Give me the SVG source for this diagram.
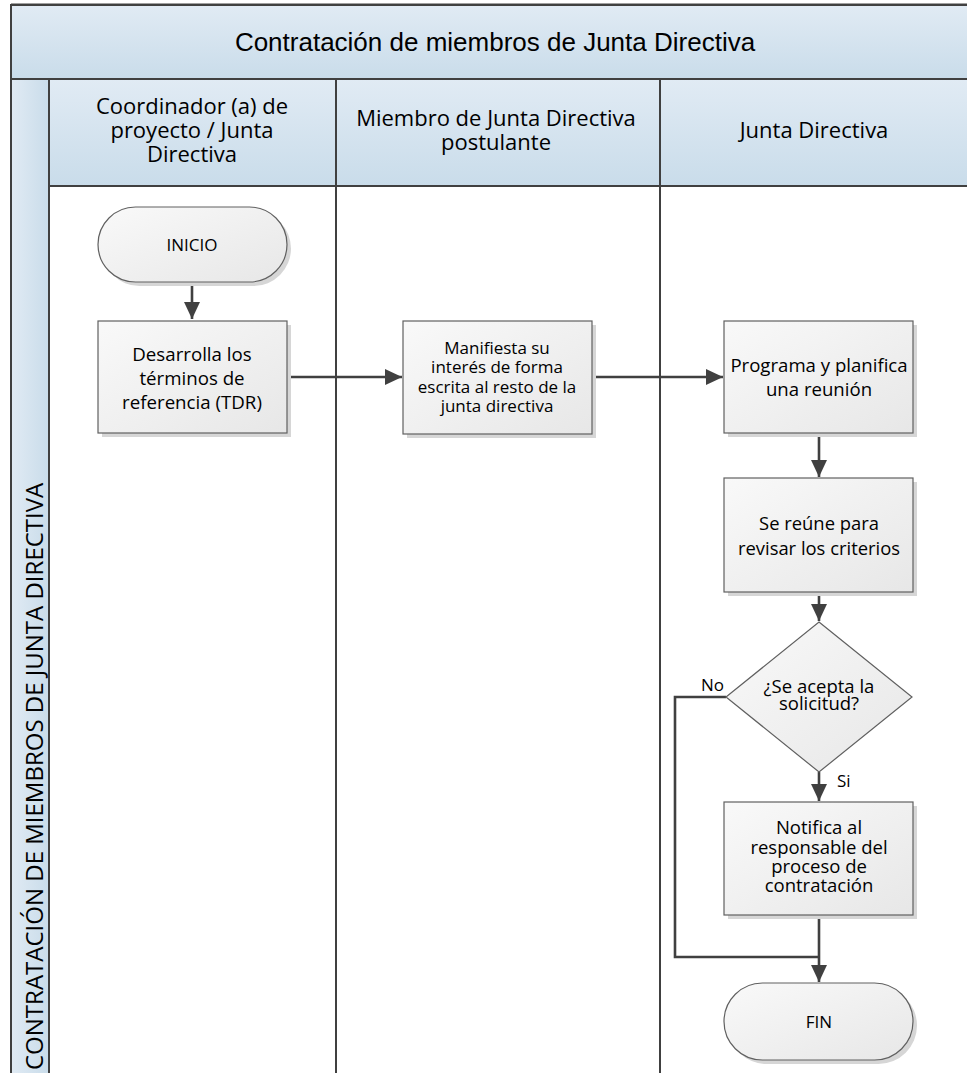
<svg xmlns="http://www.w3.org/2000/svg" width="967" height="1073" viewBox="0 0 967 1073">
<style>
.lane{stroke:#404040;stroke-width:2;fill:none}
.box{fill:url(#boxg);stroke:#606060;stroke-width:1.2}
.shadow{fill:#d6d6d6}
.conn{stroke:#404040;stroke-width:2.6;fill:none}
.t{font-family:"Open Sans",Lato,sans-serif;fill:#000;text-anchor:middle}
.h{font-family:"Open Sans",Lato,sans-serif;font-size:22px;fill:#000;text-anchor:middle}
.lbl{font-family:"Open Sans",Lato,sans-serif;font-size:17px;fill:#000}
</style>
<defs>
<linearGradient id="hdr" x1="0" y1="0" x2="0" y2="1"><stop offset="0" stop-color="#e1ebf4"/><stop offset="1" stop-color="#c9dcea"/></linearGradient>
<linearGradient id="band" x1="0" y1="0" x2="1" y2="0"><stop offset="0" stop-color="#e1ebf4"/><stop offset="1" stop-color="#c9dcea"/></linearGradient>
<linearGradient id="boxg" x1="0" y1="0" x2="1" y2="1"><stop offset="0" stop-color="#f9f9f9"/><stop offset="1" stop-color="#e7e7e7"/></linearGradient>
<marker id="arr" markerUnits="userSpaceOnUse" markerWidth="18" markerHeight="18" viewBox="0 0 18 18" refX="17" refY="9" orient="auto"><path d="M0,1 L17,9 L0,17 z" fill="#404040"/></marker>
</defs>
<rect width="967" height="1073" fill="#fff"/>
<g id="pool">
<rect x="11" y="4" width="970" height="75" fill="url(#hdr)"/>
<rect x="11" y="79" width="970" height="107" fill="url(#hdr)"/>
<rect x="11" y="79" width="38" height="1000" fill="url(#band)"/>
<line x1="11" y1="3.5" x2="967" y2="3.5" stroke="#a0a0a0" stroke-width="1"/>
<line x1="11" y1="5" x2="967" y2="5" class="lane"/>
<line x1="11" y1="4" x2="11" y2="1073" class="lane"/>
<line x1="11" y1="79" x2="967" y2="79" class="lane"/>
<line x1="49" y1="79" x2="49" y2="1073" class="lane"/>
<line x1="49" y1="186" x2="967" y2="186" class="lane"/>
<line x1="336" y1="79" x2="336" y2="1073" class="lane"/>
<line x1="660" y1="79" x2="660" y2="1073" class="lane"/>
<text x="495" y="51" font-family="Liberation Sans,Arial,sans-serif" font-size="26" text-anchor="middle">Contratación de miembros de Junta Directiva</text>
<text class="h"><tspan x="192" y="114">Coordinador (a) de</tspan><tspan x="192" y="138">proyecto / Junta</tspan><tspan x="192" y="162">Directiva</tspan></text>
<text class="h"><tspan x="496" y="126">Miembro de Junta Directiva</tspan><tspan x="496" y="150">postulante</tspan></text>
<text class="h" x="814" y="138">Junta Directiva</text>
<text transform="translate(43,1070) rotate(-90)" font-family="Open Sans,Lato,sans-serif" font-size="24" fill="#000">CONTRATACIÓN DE MIEMBROS DE JUNTA DIRECTIVA</text>
</g>
<g id="connectors">
<path class="conn" d="M192,282 V319" marker-end="url(#arr)"/>
<path class="conn" d="M287,377 H402" marker-end="url(#arr)"/>
<path class="conn" d="M592,377 H723" marker-end="url(#arr)"/>
<path class="conn" d="M819,433 V477" marker-end="url(#arr)"/>
<path class="conn" d="M819,592 V621" marker-end="url(#arr)"/>
<path class="conn" d="M819,772 V801" marker-end="url(#arr)"/>
<path class="conn" d="M726,697 H675 V957 H819"/>
<path class="conn" d="M819,915 V982" marker-end="url(#arr)"/>
<text class="lbl" x="701" y="691">No</text>
<text class="lbl" x="837" y="787">Si</text>
</g>
<g id="inicio">
<rect class="shadow" x="102" y="211" width="189" height="75" rx="37.5"/>
<rect class="box" x="98" y="207" width="189" height="75" rx="37.5"/>
<text class="t" x="192" y="251" style="font-size:17px">INICIO</text>
</g>
<g id="desarrolla">
<rect class="shadow" x="102" y="325" width="189" height="112"/>
<rect class="box" x="98" y="321" width="189" height="112"/>
<text class="t" style="font-size:18.7px"><tspan x="192" y="361">Desarrolla los</tspan><tspan x="192" y="385">términos de</tspan><tspan x="192" y="409">referencia (TDR)</tspan></text>
</g>
<g id="manifiesta">
<rect class="shadow" x="407" y="325" width="189" height="113"/>
<rect class="box" x="403" y="321" width="189" height="113"/>
<text class="t" style="font-size:17px"><tspan x="497" y="354">Manifiesta su</tspan><tspan x="497" y="373">interés de forma</tspan><tspan x="497" y="393">escrita al resto de la</tspan><tspan x="497" y="412">junta directiva</tspan></text>
</g>
<g id="programa">
<rect class="shadow" x="728" y="325" width="189" height="112"/>
<rect class="box" x="724" y="321" width="189" height="112"/>
<text class="t" style="font-size:18.6px"><tspan x="819" y="372">Programa y planifica</tspan><tspan x="819" y="396">una reunión</tspan></text>
</g>
<g id="reune">
<rect class="shadow" x="728" y="482" width="189" height="114"/>
<rect class="box" x="724" y="478" width="189" height="114"/>
<text class="t" style="font-size:18.4px"><tspan x="819" y="530">Se reúne para</tspan><tspan x="819" y="555">revisar los criterios</tspan></text>
</g>
<g id="decision">
<polygon class="box" points="819,622 912,697 819,772 726,697"/>
<text class="t" style="font-size:18.5px"><tspan x="819" y="693">¿Se acepta la</tspan><tspan x="819" y="710">solicitud?</tspan></text>
</g>
<g id="notifica">
<rect class="shadow" x="728" y="806" width="189" height="113"/>
<rect class="box" x="724" y="802" width="189" height="113"/>
<text class="t" style="font-size:18.5px"><tspan x="819" y="834">Notifica al</tspan><tspan x="819" y="854">responsable del</tspan><tspan x="819" y="873">proceso de</tspan><tspan x="819" y="892">contratación</tspan></text>
</g>
<g id="fin">
<rect class="shadow" x="728" y="987" width="189" height="77" rx="38.5"/>
<rect class="box" x="724" y="983" width="189" height="77" rx="38.5"/>
<text class="t" x="819" y="1028" style="font-size:17px">FIN</text>
</g>
</svg>
